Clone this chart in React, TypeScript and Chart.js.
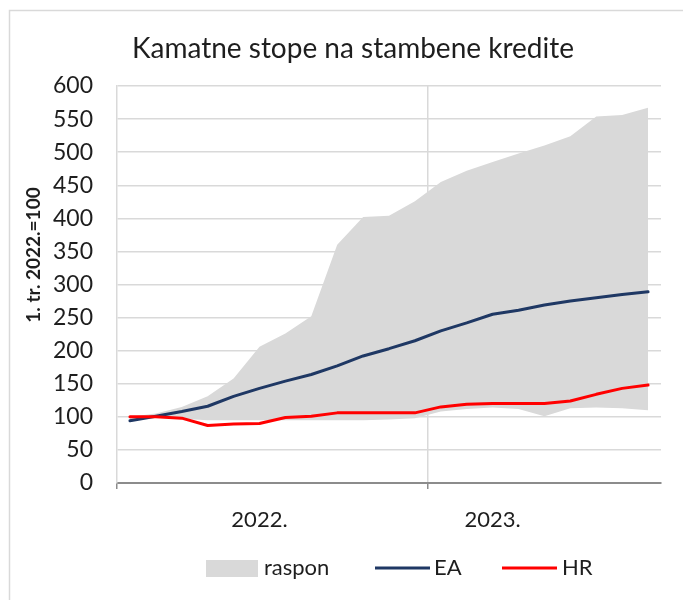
import React, { useEffect, useRef } from 'react';
import { Chart, registerables } from 'chart.js';

Chart.register(...registerables);

// ---- data ----
const months = [
  '1/2022', '2/2022', '3/2022', '4/2022', '5/2022', '6/2022', '7/2022', '8/2022', '9/2022', '10/2022', '11/2022', '12/2022',
  '1/2023', '2/2023', '3/2023', '4/2023', '5/2023', '6/2023', '7/2023', '8/2023', '9/2023',
];
const yearTickLabels = ['', '', '', '', '', '2022.', '', '', '', '', '', '', '', '', '2023.', '', '', '', '', '', ''];
const rasponLower = [94, 100, 97, 95, 95, 95, 95, 95, 95, 95, 96, 98, 108, 112, 114, 112, 101, 113, 114, 113, 110];
const rasponUpper = [100, 105, 115, 131, 158, 206, 226, 252, 360, 402, 404, 426, 455, 472, 485, 498, 510, 524, 554, 556, 567];
const ea = [94, 101, 108, 116, 131, 143, 154, 164, 177, 192, 203, 215, 230, 242, 255, 261, 269, 275, 280, 285, 289];
const hr = [100, 100, 98, 87, 89, 90, 99, 101, 106, 106, 106, 106, 115, 119, 120, 120, 120, 124, 134, 143, 148];
const yTicks = [0, 50, 100, 150, 200, 250, 300, 350, 400, 450, 500, 550, 600];

const TITLE = 'Kamatne stope na stambene kredite';
const Y_TITLE = '1. tr. 2022.=100';
const SERIES_NAMES = ['raspon', 'EA', 'HR'];

const GRAY = '#d9d9d9';
const NAVY = '#1f3864';
const RED = '#ff0000';
const TEXT = '#1e1e1e';
const FONT = 'Lato, "Open Sans", sans-serif';

const decor = {
  id: 'decor',
  beforeDraw(chart: any) {
    const { ctx } = chart;
    ctx.save();
    ctx.fillStyle = '#ffffff';
    ctx.fillRect(0, 0, chart.width, chart.height);
    ctx.strokeStyle = GRAY;
    ctx.lineWidth = 1.5;
    ctx.beginPath();
    ctx.moveTo(9.5, chart.height);
    ctx.lineTo(9.5, 10.5);
    ctx.lineTo(chart.width, 10.5);
    ctx.stroke();
    ctx.restore();
  },
  afterDraw(chart: any) {
    const { ctx } = chart;
    ctx.save();
    ctx.fillStyle = TEXT;
    // title
    ctx.font = `28px ${FONT}`;
    ctx.textAlign = 'center';
    ctx.textBaseline = 'alphabetic';
    ctx.fillText(TITLE, 353, 58);
    // y title
    ctx.save();
    ctx.translate(34, 255);
    ctx.rotate(-Math.PI / 2);
    ctx.font = `bold 19px ${FONT}`;
    ctx.textAlign = 'center';
    ctx.textBaseline = 'middle';
    ctx.fillText(Y_TITLE, 0, 0);
    ctx.restore();
    // legend
    const ly = 568;
    ctx.font = `22px ${FONT}`;
    ctx.textAlign = 'left';
    ctx.textBaseline = 'middle';
    ctx.fillStyle = GRAY;
    ctx.fillRect(206, ly - 8, 52, 17);
    ctx.fillStyle = TEXT;
    ctx.fillText(SERIES_NAMES[0], 264, ly);
    ctx.lineWidth = 3;
    ctx.strokeStyle = NAVY;
    ctx.beginPath();
    ctx.moveTo(375, ly);
    ctx.lineTo(430, ly);
    ctx.stroke();
    ctx.fillText(SERIES_NAMES[1], 434, ly);
    ctx.strokeStyle = RED;
    ctx.beginPath();
    ctx.moveTo(502, ly);
    ctx.lineTo(557, ly);
    ctx.stroke();
    ctx.fillText(SERIES_NAMES[2], 562, ly);
    ctx.restore();
  },
};

export default function App() {
  const ref = useRef<HTMLCanvasElement | null>(null);

  useEffect(() => {
    if (!ref.current) return;
    const chart = new Chart(ref.current, {
      type: 'line',
      data: {
        labels: months,
        datasets: [
          {
            label: 'lower',
            data: rasponLower,
            borderColor: 'rgba(0,0,0,0)',
            borderWidth: 0,
            pointRadius: 0,
            fill: false,
            order: 3,
          },
          {
            label: SERIES_NAMES[0],
            data: rasponUpper,
            borderColor: 'rgba(0,0,0,0)',
            borderWidth: 0,
            backgroundColor: GRAY,
            pointRadius: 0,
            fill: '-1',
            order: 2,
          },
          {
            label: SERIES_NAMES[1],
            data: ea,
            borderColor: NAVY,
            borderWidth: 3,
            pointRadius: 0,
            fill: false,
            order: 1,
          },
          {
            label: SERIES_NAMES[2],
            data: hr,
            borderColor: RED,
            borderWidth: 3,
            pointRadius: 0,
            fill: false,
            order: 0,
          },
        ],
      },
      options: {
        animation: false,
        responsive: false,
        layout: { padding: { top: 86, right: 22, left: 0, bottom: 0 } },
        plugins: {
          legend: { display: false },
          title: { display: false },
          tooltip: { enabled: false },
        },
        elements: { line: { tension: 0, borderCapStyle: 'round', borderJoinStyle: 'round' } },
        scales: {
          x: {
            type: 'category',
            offset: true,
            grid: {
              offset: true,
              drawOnChartArea: true,
              color: (c: any) => (c.index === 12 ? GRAY : 'rgba(0,0,0,0)'),
              lineWidth: 1.5,
              drawTicks: true,
              tickLength: 6,
              tickColor: (c: any) => (c.index === 0 || c.index === 12 ? '#8c8c8c' : 'rgba(0,0,0,0)'),
              tickWidth: 1.5,
            },
            border: { display: true, color: '#8c8c8c', width: 2 },
            ticks: {
              autoSkip: false,
              maxRotation: 0,
              minRotation: 0,
              padding: 18,
              color: TEXT,
              font: { family: FONT, size: 22 },
              callback: (_v: any, i: number) => yearTickLabels[i],
            },
            afterFit: (s: any) => {
              s.height = 117;
            },
          },
          y: {
            min: 0,
            max: 600,
            afterBuildTicks: (s: any) => {
              s.ticks = yTicks.map((v) => ({ value: v }));
            },
            grid: {
              color: (c: any) => (c.tick && c.tick.value === 0 ? 'rgba(0,0,0,0)' : GRAY),
              lineWidth: 1.5,
              drawTicks: false,
            },
            border: { display: true, color: GRAY, width: 1.5 },
            ticks: {
              padding: 24,
              color: TEXT,
              font: { family: FONT, size: 23 },
            },
            afterFit: (s: any) => {
              s.width = 117;
            },
          },
        },
      },
      plugins: [decor],
    });
    return () => chart.destroy();
  }, []);

  return (
    <div style={{ position: 'fixed', left: 0, top: 0, width: 683, height: 600, background: '#fff' }}>
      <canvas ref={ref} width={683} height={600} style={{ width: 683, height: 600, display: 'block' }} />
    </div>
  );
}
